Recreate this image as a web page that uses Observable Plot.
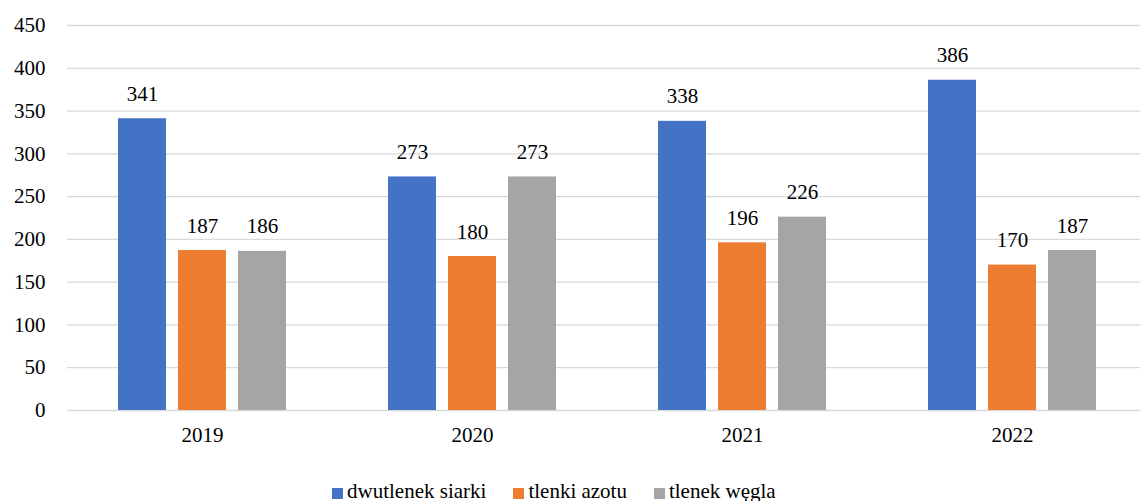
<!DOCTYPE html>
<html><head><meta charset="utf-8">
<script src="https://cdn.jsdelivr.net/npm/d3@7"></script>
<script src="https://cdn.jsdelivr.net/npm/@observablehq/plot@0.6"></script>
<style>
html,body{margin:0;padding:0;background:#fff;overflow:hidden;width:1140px;height:501px;font-family:'Liberation Serif',serif;}
#chart svg{display:block;max-width:none !important;}
#legend{position:absolute;top:481px;left:332px;display:flex;font-family:'Liberation Serif',serif;font-size:21px;line-height:21px;color:#000;white-space:nowrap;}
#legend .item{display:flex;align-items:center;margin-right:27px;}
#legend .sw{width:11px;height:11px;margin-right:4px;margin-top:3px;}
</style></head>
<body>
<div id="chart"></div>
<div id="legend"></div>
<script>
const years = ["2019","2020","2021","2022"];
const series = ["dwutlenek siarki","tlenki azotu","tlenek węgla"];
const colors = ["#4472C4","#ED7D31","#A5A5A5"];
const sulfurDioxide = [341, 273, 338, 386];
const nitrogenOxides = [187, 180, 196, 170];
const carbonMonoxide = [186, 273, 226, 187];
const yTicks = [0,50,100,150,200,250,300,350,400,450];

const valuesBySeries = [sulfurDioxide, nitrogenOxides, carbonMonoxide];
const data = [];
years.forEach((y, i) => series.forEach((s, j) => data.push({year: y, series: s, value: valuesBySeries[j][i]})));

const chart = Plot.plot({
  width: 1147, height: 470,
  marginLeft: 67, marginRight: 0, marginTop: 25, marginBottom: 60,
  style: {fontFamily: "Liberation Serif, serif", fontSize: "21px", color: "#000", background: "#fff", maxWidth: "none"},
  fx: {domain: years, padding: 0, label: null},
  x: {domain: series, paddingInner: 0.2, paddingOuter: 0.85, axis: null},
  y: {domain: [0, 450], label: null},
  color: {domain: series, range: colors},
  marks: [
    Plot.ruleY(yTicks, {stroke: "#d9d9d9", strokeWidth: 1.3}),
    Plot.barY(data, {fx: "year", x: "series", y: "value", fill: "series"}),
    Plot.text(data, {fx: "year", x: "series", y: "value", text: d => String(d.value), lineAnchor: "bottom", dy: -18, fill: "#000", fontFamily: "Liberation Serif, serif"}),
    Plot.axisY({ticks: yTicks, tickSize: 0, tickPadding: 22, label: null, fontFamily: "Liberation Serif, serif"}),
    Plot.axisFx({anchor: "bottom", tickSize: 0, tickPadding: 17, label: null, fontFamily: "Liberation Serif, serif"})
  ]
});
document.getElementById("chart").appendChild(chart);

const legend = document.getElementById("legend");
series.forEach((s, i) => {
  const it = document.createElement("div"); it.className = "item";
  const sw = document.createElement("span"); sw.className = "sw"; sw.style.background = colors[i];
  const t = document.createElement("span"); t.textContent = s;
  it.appendChild(sw); it.appendChild(t); legend.appendChild(it);
});
</script>
</body></html>
